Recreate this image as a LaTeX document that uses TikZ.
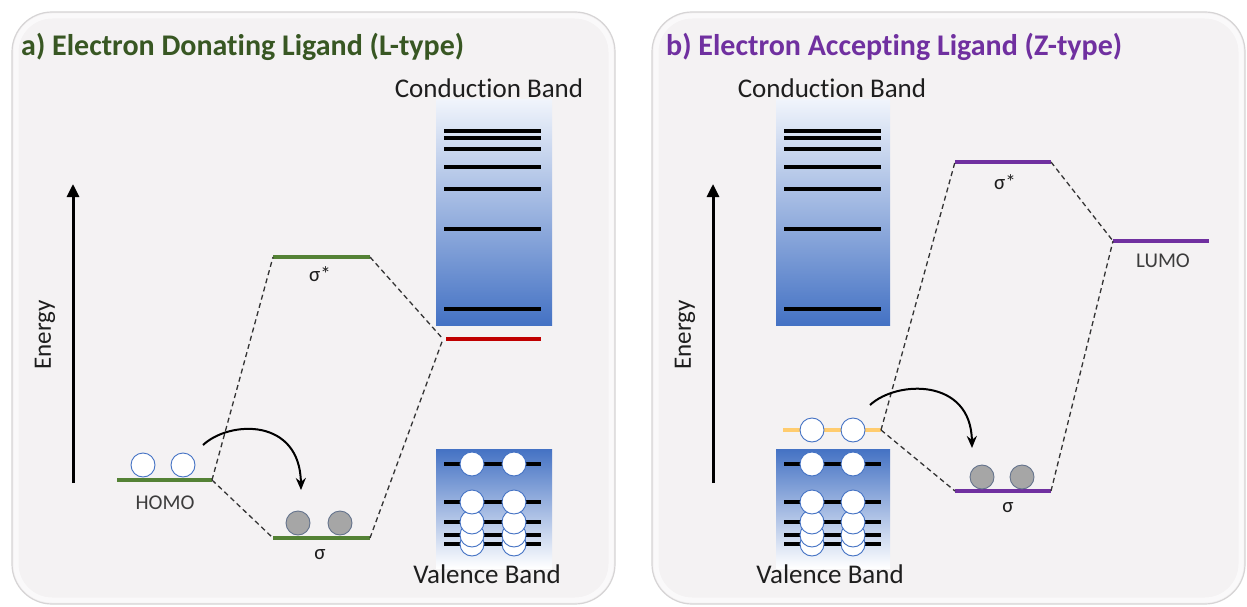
\documentclass[tikz,border=0pt]{standalone}
\usepackage{fontspec}
\setmainfont{Carlito}[RawFeature=-liga]
\usetikzlibrary{arrows.meta}

\definecolor{panelbg}{RGB}{244,242,243}
\definecolor{panelrim}{RGB}{214,212,213}
\definecolor{lgreen}{RGB}{84,130,53}
\definecolor{tgreen}{RGB}{56,87,35}
\definecolor{zpurple}{RGB}{112,48,160}
\definecolor{cbred}{RGB}{192,0,0}
\definecolor{homoyellow}{RGB}{255,204,110}
\definecolor{bandblue}{RGB}{68,114,196}
\definecolor{bandmid}{RGB}{178,196,228}
\definecolor{bandtop}{RGB}{240,244,251}
\definecolor{egray}{RGB}{166,166,166}
\definecolor{egrayrim}{RGB}{100,115,140}
\definecolor{txt}{RGB}{30,30,30}
\definecolor{txtgray}{RGB}{60,60,60}

\tikzset{
  panel/.style={fill=panelbg, draw=panelrim, line width=1.2pt, rounded corners=40pt},
  panelglow/.style={draw=white, line width=5pt, opacity=0.6, rounded corners=36pt},
  level/.style={line width=4pt},
  bandline/.style={line width=4.5pt, black},
  mix/.style={dash pattern=on 5pt off 3.5pt, line width=1.3pt, draw=black!80},
  eopen/.style={circle, minimum size=24pt, inner sep=0pt, draw=bandblue, fill=white, line width=0.9pt},
  efull/.style={circle, minimum size=24pt, inner sep=0pt, draw=egrayrim, fill=egray, line width=0.9pt},
  energyaxis/.style={line width=3pt, -{Triangle[length=13pt,width=12pt]}},
  hop/.style={line width=2pt, -{Stealth[length=12pt,width=10pt]}},
  cbshade/.style={top color=bandtop, middle color=bandmid, bottom color=bandblue},
  vbshade/.style={top color=bandblue, middle color=bandmid, bottom color=white},
  bandlabel/.style={font=\fontsize{27}{30}\selectfont, text=txt, inner sep=0pt},
  molabel/.style={font=\fontsize{21}{24}\selectfont, text=txtgray, inner sep=0pt},
  axislabel/.style={font=\fontsize{25}{28}\selectfont, text=txt, inner sep=0pt, rotate=90},
  titlelabel/.style={font=\fontsize{30}{34}\selectfont\bfseries, inner sep=0pt, anchor=west}
}

\begin{document}
\begin{tikzpicture}[x=1pt, y=-1pt]
\useasboundingbox (0,0) rectangle (1247,607);
\fill[white] (0,0) rectangle (1247,607);

% ---------- panel frames ----------
\path[panel] (12,12) rectangle (615,604);
\path[panelglow] (16,16) rectangle (611,600);
\path[panel] (652,12) rectangle (1245,604);
\path[panelglow] (656,16) rectangle (1241,600);

% =====================================================
% a) Electron donating ligand (L-type)
% =====================================================
\node[titlelabel, text=tgreen] (titleA) at (21,47) {a) Electron Donating Ligand (L-type)};

% energy axis
\coordinate (eAlo) at (73,483);
\coordinate (eAhi) at (73,184);
\draw[energyaxis] (eAlo) -- (eAhi);
\node[axislabel] (energyA) at (45,335) {Energy};

% conduction band
\path[cbshade] (436,100) rectangle (552,325);
\foreach \y in {131,138,149,167,189,229,309}
  \draw[bandline] (444,\y) -- (541,\y);
\node[bandlabel] (cbA) at (489,88) {Conduction Band};

% surface state
\coordinate (redL) at (443,339);
\coordinate (redR) at (541,339);
\draw[level, cbred] (446,339) -- (redR);

% valence band
\path[vbshade] (436,449) rectangle (552,568);
\foreach \y in {464,502,522,535,544}
  \draw[bandline] (444,\y) -- (541,\y);
\foreach \y [count=\i] in {544,535,522,502,464} {
  \node[eopen] (vbA\i l) at (472,\y) {};
  \node[eopen] (vbA\i r) at (514,\y) {};
}
\node[bandlabel] (vbA) at (487,574) {Valence Band};

% ligand HOMO
\coordinate (homoL) at (117,480);
\coordinate (homoR) at (212,480);
\draw[level, lgreen] (homoL) -- (homoR);
\node[eopen] (hA1) at (143,465) {};
\node[eopen] (hA2) at (183,465) {};
\node[molabel] (homoA) at (165,503) {HOMO};

% bonding / antibonding levels
\coordinate (sgL) at (273,538);
\coordinate (sgR) at (370,538);
\draw[level, lgreen] (sgL) -- (sgR);
\node[efull] (sA1) at (298,523) {};
\node[efull] (sA2) at (340,523) {};
\node[molabel, text=txt] (sigA) at (320,555) {σ};

\coordinate (ssL) at (273,257);
\coordinate (ssR) at (370,257);
\draw[level, lgreen] (ssL) -- (ssR);
\node[molabel, text=txt] (sigsA) at (320,274) {σ*};

% correlation lines
\draw[mix] (homoR) -- (ssL);
\draw[mix] (homoR) -- (sgL);
\draw[mix] (ssR) -- (redL);
\draw[mix] (sgR) -- (redL);

% electron donation
\coordinate (hopA0) at (203,445);
\coordinate (hopA1) at (301,490);
\draw[hop] (hopA0) .. controls (230,420) and (300,418) .. (hopA1);

% =====================================================
% b) Electron accepting ligand (Z-type)
% =====================================================
\node[titlelabel, text=zpurple] (titleB) at (666,47) {b) Electron Accepting Ligand (Z-type)};

% energy axis
\coordinate (eBlo) at (713,483);
\coordinate (eBhi) at (713,184);
\draw[energyaxis] (eBlo) -- (eBhi);
\node[axislabel] (energyB) at (685,335) {Energy};

% conduction band
\path[cbshade] (776,100) rectangle (890,325);
\foreach \y in {131,138,149,167,189,229,309}
  \draw[bandline] (784,\y) -- (881,\y);
\node[bandlabel] (cbB) at (832,88) {Conduction Band};

% valence band
\path[vbshade] (776,449) rectangle (890,568);
\foreach \y in {464,502,522,535,544}
  \draw[bandline] (784,\y) -- (881,\y);
\foreach \y [count=\i] in {544,535,522,502,464} {
  \node[eopen] (vbB\i l) at (812,\y) {};
  \node[eopen] (vbB\i r) at (853,\y) {};
}
\node[bandlabel] (vbB) at (830,574) {Valence Band};

% filled surface state
\coordinate (ysL) at (783,430);
\coordinate (ysR) at (881,430);
\draw[level, homoyellow] (ysL) -- (ysR);
\node[eopen] (yB1) at (812,430) {};
\node[eopen] (yB2) at (853,430) {};

% ligand LUMO
\coordinate (lumoL) at (1113,241);
\coordinate (lumoR) at (1209,241);
\draw[level, zpurple] (lumoL) -- (lumoR);
\node[molabel] (lumoB) at (1163,261) {LUMO};

% bonding / antibonding levels
\coordinate (sgBL) at (955,491);
\coordinate (sgBR) at (1051,491);
\draw[level, zpurple] (sgBL) -- (sgBR);
\node[efull] (sB1) at (982,477) {};
\node[efull] (sB2) at (1022,477) {};
\node[molabel, text=txt] (sigB) at (1008,508) {σ};

\coordinate (ssBL) at (955,162);
\coordinate (ssBR) at (1051,162);
\draw[level, zpurple] (ssBL) -- (ssBR);
\node[molabel, text=txt] (sigsB) at (1005,182) {σ*};

% correlation lines
\draw[mix] (ysR) -- (ssBL);
\draw[mix] (ysR) -- (sgBL);
\draw[mix] (ssBR) -- (lumoL);
\draw[mix] (sgBR) -- (lumoL);

% electron acceptance
\coordinate (hopB0) at (870,405);
\coordinate (hopB1) at (972,448);
\draw[hop] (hopB0) .. controls (897,380) and (971,378) .. (hopB1);

\end{tikzpicture}
\end{document}
